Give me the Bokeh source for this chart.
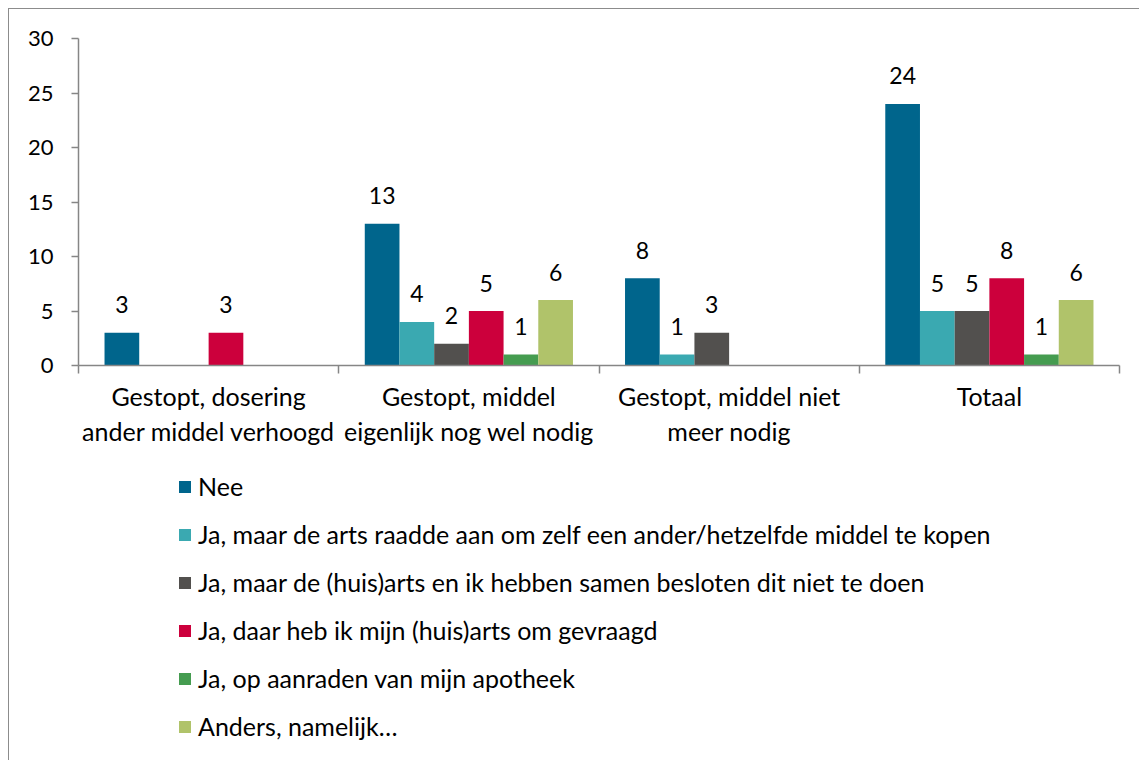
from bokeh.plotting import figure
from bokeh.layouts import column
from bokeh.models import (Range1d, LinearAxis, FixedTicker, ColumnDataSource, Legend, LegendItem)
from bokeh.transform import dodge
from bokeh.core.properties import value
from bokeh.embed import file_html
from bokeh.resources import INLINE

categories = [
    "Gestopt, dosering\nander middel verhoogd",
    "Gestopt, middel\neigenlijk nog wel nodig",
    "Gestopt, middel niet\nmeer nodig",
    "Totaal",
]
series_names = [
    "Nee",
    "Ja, maar de arts raadde aan om zelf een ander/hetzelfde middel te kopen",
    "Ja, maar de (huis)arts en ik hebben samen besloten dit niet te doen",
    "Ja, daar heb ik mijn (huis)arts om gevraagd",
    "Ja, op aanraden van mijn apotheek",
    "Anders, namelijk…",
]
nee = [3, 13, 8, 24]
ja_arts_raadde = [0, 4, 1, 5]
ja_samen_besloten = [0, 2, 3, 5]
ja_gevraagd = [3, 5, 0, 8]
ja_apotheek = [0, 1, 0, 1]
anders = [0, 6, 0, 6]
series_values = [nee, ja_arts_raadde, ja_samen_besloten, ja_gevraagd, ja_apotheek, anders]
colors = ["#00658c", "#3aa9b1", "#52504e", "#cc003c", "#459c50", "#b0c36a"]
y_ticks = [0, 5, 10, 15, 20, 25, 30]

FONT = "Lato"
AXIS_COLOR = "#868686"

n_cat = len(categories)
centres = [i + 0.5 for i in range(n_cat)]  # category slot centres on the x scale

p = figure(
    width=1130, height=451,
    x_range=Range1d(0, n_cat),
    y_range=Range1d(0, y_ticks[-1]),
    x_axis_location=None,
    toolbar_location=None,
    output_backend="svg",
    min_border_left=69, min_border_right=20, min_border_top=29, min_border_bottom=95,
)
p.outline_line_color = None
p.xgrid.visible = False
p.ygrid.visible = False

n_series = len(series_values)
bar_w = 0.8 / n_series
sources = []
for i, (vals, col) in enumerate(zip(series_values, colors)):
    off = (i - (n_series - 1) / 2) * bar_w
    src = ColumnDataSource(dict(
        x=centres, y=vals,
        label=[str(v) if v > 0 else "" for v in vals],
    ))
    p.vbar(x=dodge("x", off), top="y", width=bar_w,
           source=src, fill_color=col, line_color=None)
    p.text(x=dodge("x", off), y="y", text="label", source=src,
           text_align="center", text_baseline="alphabetic", y_offset=-28,
           text_font=value(FONT), text_font_size="23px", text_color="#000000")
    sources.append((off, src))

# y axis
ya = p.yaxis[0]
ya.ticker = FixedTicker(ticks=y_ticks)
ya.axis_line_color = AXIS_COLOR
ya.axis_line_width = 1.5
ya.major_tick_line_color = AXIS_COLOR
ya.major_tick_line_width = 1.5
ya.major_tick_out = 7
ya.major_tick_in = 0
ya.minor_tick_line_color = None
ya.major_label_standoff = 18
ya.major_label_text_font = FONT
ya.major_label_text_font_size = "22px"
ya.major_label_text_color = "#000000"

# x axis: category labels at centres, tick marks at slot boundaries
xa = LinearAxis(
    ticker=FixedTicker(ticks=centres, minor_ticks=list(range(n_cat + 1))),
    major_label_overrides={c: lab for c, lab in zip(centres, categories)},
    axis_line_color=AXIS_COLOR, axis_line_width=1.5,
    major_tick_line_color=None, major_tick_out=0, major_tick_in=0,
    minor_tick_line_color=AXIS_COLOR, minor_tick_line_width=1.5,
    minor_tick_out=8, minor_tick_in=0,
    major_label_standoff=7,
    major_label_text_font=FONT, major_label_text_font_size="25px",
    major_label_text_color="#000000", major_label_text_line_height=1.18,
)
p.add_layout(xa, "below")

# legend panel below the chart; its (hidden) renderers share the bar data
pl = figure(
    width=1130, height=300,
    x_range=Range1d(0, n_cat), y_range=Range1d(0, y_ticks[-1]),
    x_axis_location=None, y_axis_location=None,
    toolbar_location=None, output_backend="svg",
    min_border=0,
)
pl.outline_line_color = None
pl.xgrid.visible = False
pl.ygrid.visible = False
items = []
for name, col, (off, src) in zip(series_names, colors, sources):
    sw = pl.vbar(x=dodge("x", off), top="y", width=bar_w, source=src,
                 fill_color=col, line_color=None, visible=False)
    items.append(LegendItem(label=name, renderers=[sw]))

legend = Legend(
    items=items, location=(99, 19), orientation="vertical",
    border_line_color=None, background_fill_alpha=0,
    glyph_width=15, glyph_height=15, label_standoff=6,
    label_height=30, spacing=18, padding=0, margin=0,
    label_text_font=FONT, label_text_font_size="25px", label_text_color="#000000",
)
pl.add_layout(legend, "center")

layout = column(p, pl, spacing=0, styles={
    "border-left": "1px solid #8c8c8c",
    "border-top": "1px solid #8c8c8c",
    "margin-left": "8px",
    "margin-top": "8px",
})
open("out.html", "w").write(file_html(layout, INLINE))
